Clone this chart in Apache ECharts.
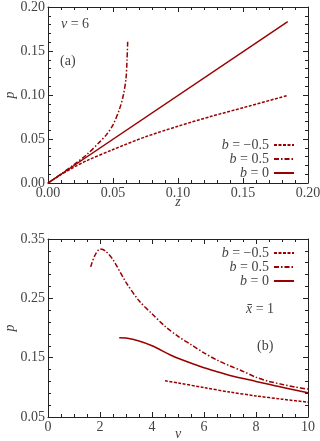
<!DOCTYPE html>
<html lang="en">
  <head>
    <meta charset="UTF-8" />
    <title>p vs z and p vs v</title>
    <script src="https://cdn.jsdelivr.net/npm/echarts@6/dist/echarts.min.js"></script>
  </head>
  <body style="margin:0">
    <div id="container" style="width: 320px;height: 441px"></div>
    <script>
      // panel (a): p against z, v = 6
      var topMinus = [[0, 0], [0.01, 0.0095], [0.02, 0.018], [0.03, 0.0255], [0.05, 0.038], [0.075, 0.0525], [0.1, 0.0645], [0.125, 0.0755], [0.15, 0.0855], [0.1836, 0.0992]]
      var topPlus = [[0, 0], [0.01, 0.0102], [0.02, 0.021], [0.03, 0.0325], [0.04, 0.047], [0.045, 0.055], [0.05, 0.066], [0.055, 0.084], [0.058, 0.1], [0.06, 0.119], [0.0608, 0.14], [0.0613, 0.161]]
      var topZero = [[0, 0], [0.1844, 0.1833]]
      // panel (b): p against v, x̄ = 1
      var botMinus = [[4.5, 0.111], [5, 0.1075], [6, 0.0995], [7, 0.092], [8, 0.0855], [9, 0.08], [10, 0.075]]
      var botPlus = [[1.64, 0.303], [1.8, 0.322], [2.0, 0.333], [2.2, 0.33], [2.5, 0.315], [3.0, 0.277], [3.5, 0.246], [4.0, 0.224], [4.5, 0.203], [5.0, 0.186], [5.5, 0.172], [6.0, 0.158], [6.5, 0.146], [7.0, 0.136], [7.5, 0.127], [8.0, 0.117], [8.5, 0.11], [9.0, 0.105], [9.5, 0.1005], [10, 0.097]]
      var botZero = [[2.74, 0.1836], [3.0, 0.183], [3.5, 0.178], [4.0, 0.17], [4.69, 0.155], [5.0, 0.149], [6.0, 0.133], [6.62, 0.125], [7.0, 0.12], [8.0, 0.11], [9.0, 0.1], [10, 0.091]]
      var names = ['b = −0.5', 'b = 0.5', 'b = 0']

      var font = 'Liberation Serif'
      var fs = 14
      var red = '#990000'
      var txt = '#444'
      var dashes = [[3, 1.5], [5, 2, 1.5, 2], 'solid']

      var myChart = echarts.init(document.querySelector('#container'))

      function ax(grid, min, max, interval, minor, pos, show, fmt, name) {
        return {
          type: 'value', gridIndex: grid, min: min, max: max, interval: interval, position: pos,
          name: name, nameLocation: 'middle', nameGap: 12, nameMoveOverlap: false,
          nameTextStyle: { fontFamily: font, fontStyle: 'italic', fontSize: fs, color: txt },
          axisLine: { show: true, onZero: false, lineStyle: { color: '#222', width: 1 } },
          axisTick: { show: true, inside: true, length: 5, lineStyle: { color: '#222' } },
          minorTick: { show: true, splitNumber: minor, length: 3, lineStyle: { color: '#222' } },
          splitLine: { show: false },
          axisLabel: { show: show, margin: 3, fontFamily: font, fontSize: fs, color: txt, formatter: fmt }
        }
      }
      function f2(v) { return v.toFixed(2) }
      function f0(v) { return Math.round(v) + '' }

      var xa = [
        ax(0, 0, 0.2, 0.05, 5, 'bottom', true, f2, 'z'),
        ax(0, 0, 0.2, 0.05, 5, 'top', false, f2, ''),
        ax(1, 0, 10, 2, 4, 'bottom', true, f0, 'v'),
        ax(1, 0, 10, 2, 4, 'top', false, f0, '')
      ]
      xa[2].nameGap = 10
      var ya = [
        ax(0, 0, 0.2, 0.05, 5, 'left', true, f2, 'p'),
        ax(0, 0, 0.2, 0.05, 5, 'right', false, f2, ''),
        ax(1, 0.05, 0.35, 0.1, 5, 'left', true, f2, 'p'),
        ax(1, 0.05, 0.35, 0.1, 5, 'right', false, f2, '')
      ]
      ya.forEach(function (a) { a.nameGap = 31; a.axisLabel.margin = 3 })

      function line(name, i, data, axis) {
        return {
          type: 'line', name: name, data: data, xAxisIndex: axis, yAxisIndex: axis,
          symbol: 'none', smooth: 0.3, silent: true,
          lineStyle: { color: red, width: 1.5, type: dashes[i] },
          itemStyle: { color: red }
        }
      }

      function legend(top, gap) {
        return {
          data: names, orient: 'vertical', align: 'right', right: 25, top: top,
          itemWidth: 20, itemHeight: 8, itemGap: gap, selectedMode: false, padding: 0,
          itemStyle: { opacity: 0 },
          formatter: function (n) { return '{i|b}' + n.slice(1) },
          textStyle: { fontFamily: font, fontSize: fs, color: txt, rich: { i: { fontFamily: font, fontSize: fs, fontStyle: 'italic', color: txt } } }
        }
      }

      function label(text, left, top) {
        return {
          type: 'text', left: left, top: top, silent: true,
          style: { text: text, fill: txt, font: fs + 'px "' + font + '"', rich: { i: { fontFamily: font, fontSize: fs, fontStyle: 'italic', fill: txt } } }
        }
      }

      myChart.setOption({
        backgroundColor: '#fff',
        animation: false,
        graphic: [
          label('{i|v} = 6', 61, 17),
          label('(a)', 60, 54),
          label('{i|x̄} = 1', 246, 302),
          label('(b)', 257, 339)
        ],
        grid: [
          { left: 48, top: 7, width: 260, height: 176, outerBoundsMode: 'none' },
          { left: 48, top: 239, width: 260, height: 178, outerBoundsMode: 'none' }
        ],
        legend: [legend(138, 0), legend(246, 0)],
        xAxis: xa,
        yAxis: ya,
        series: [
          line(names[0], 0, topMinus, 0),
          line(names[1], 1, topPlus, 0),
          line(names[2], 2, topZero, 0),
          line(names[0], 0, botMinus, 2),
          line(names[1], 1, botPlus, 2),
          line(names[2], 2, botZero, 2)
        ]
      })
    </script>
  </body>
</html>
